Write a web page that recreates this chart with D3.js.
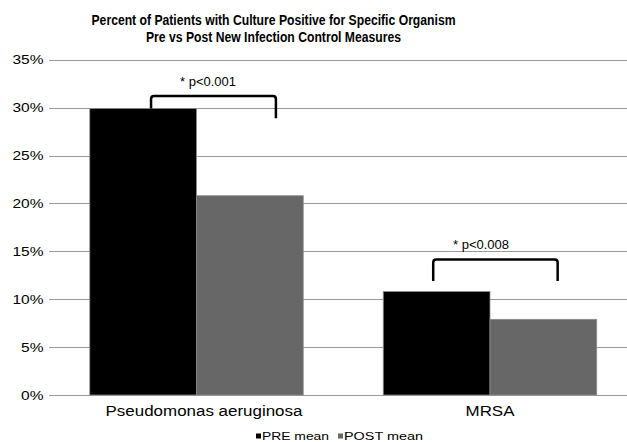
<!DOCTYPE html>
<html>
<head>
<meta charset="utf-8">
<script src="https://cdn.jsdelivr.net/npm/d3@7/dist/d3.min.js"></script>
<style>
body { margin: 0; background: #fff; }
text { font-family: "Liberation Sans", Arial, Helvetica, sans-serif; fill: #000; }
</style>
</head>
<body>
<script>
// data
var organisms = ["Pseudomonas aeruginosa", "MRSA"];
var seriesNames = ["PRE mean", "POST mean"];
var preMean = [0.299, 0.108];
var postMean = [0.208, 0.079];
var yTicks = [0, 0.05, 0.10, 0.15, 0.20, 0.25, 0.30, 0.35];
var pLabels = ["* p<0.001", "* p<0.008"];
var bracketTop = [0.312, 0.1415];
var bracketLeftEnd = [0.299, 0.119];
var bracketRightEnd = [0.289, 0.119];
var titleLines = ["Percent of Patients with Culture Positive for Specific Organism",
                  "Pre vs Post New Infection Control Measures"];

var w = 627, h = 442;
var colors = ["#000000", "#676767"];

var svg = d3.select("body").append("svg")
    .attr("width", w).attr("height", h);

// stretch text horizontally to match the squashed look of the original
function stretch(sel, k) {
    sel.each(function() {
        var len = this.getComputedTextLength();
        d3.select(this).attr("textLength", len * k).attr("lengthAdjust", "spacingAndGlyphs");
    });
}

var yScale = d3.scaleLinear().domain([0, 0.35]).range([395, 59.7]);
var x0 = d3.scaleBand().domain(organisms).range([49.75, 636.75])
    .paddingInner(0.2727).paddingOuter(0.1364);
var x1 = d3.scaleBand().domain(seriesNames).range([0, x0.bandwidth()]);

// title
svg.selectAll(".title").data(titleLines).enter().append("text")
    .attr("x", 273.5)
    .attr("y", function(d, i) { return 25 + i * 16.5; })
    .attr("text-anchor", "middle")
    .style("font-size", "14px").style("font-weight", "bold")
    .text(function(d) { return d; })
    .attr("textLength", function(d, i) { return i == 0 ? 364 : 255; })
    .attr("lengthAdjust", "spacingAndGlyphs");

// gridlines
svg.selectAll(".grid").data(yTicks).enter().append("line")
    .attr("x1", 49).attr("x2", w)
    .attr("y1", function(d) { return Math.round(yScale(d)) + 0.5; })
    .attr("y2", function(d) { return Math.round(yScale(d)) + 0.5; })
    .attr("stroke", "#9a9a9a").attr("stroke-width", 1);

// y axis labels
var yAxis = d3.axisLeft(yScale).tickValues(yTicks).tickFormat(d3.format(".0%")).tickSize(0).tickPadding(0);
var yg = svg.append("g").attr("transform", "translate(43.5,0)").call(yAxis);
yg.select(".domain").remove();
yg.selectAll("text").style("font-size", "12.5px").style("font-family", "Liberation Sans, Arial, sans-serif").attr("fill", "#000");
stretch(yg.selectAll("text"), 1.24);

// bars
var groups = svg.selectAll(".grp").data(organisms).enter().append("g")
    .attr("transform", function(d) { return "translate(" + x0(d) + ",0)"; });

groups.selectAll("rect").data(function(d, i) {
        return [{s: seriesNames[0], v: preMean[i]}, {s: seriesNames[1], v: postMean[i]}];
    }).enter().append("rect")
    .attr("x", function(d) { return x1(d.s); })
    .attr("y", function(d) { return yScale(d.v); })
    .attr("width", x1.bandwidth())
    .attr("height", function(d) { return yScale(0) - yScale(d.v); })
    .attr("fill", function(d, i) { return colors[i]; })
    .attr("stroke", "#8c8c8c").attr("stroke-width", 0.8);

// category labels
var xLab = svg.selectAll(".xlab").data(organisms).enter().append("text")
    .attr("x", function(d, i) { return x0(d) + x0.bandwidth() / 2 + (i == 0 ? 7.5 : 0); })
    .attr("y", 416)
    .attr("text-anchor", "middle")
    .style("font-size", "14px")
    .text(function(d) { return d; });
stretch(xLab, 1.21);

// significance brackets (positions as fraction of the group band)
var bLeft = [0.287, 0.234], bRight = [0.872, 0.817], tCenter = [0.554, 0.458];
organisms.forEach(function(o, i) {
    var xl = x0(o) + bLeft[i] * x0.bandwidth();
    var xr = x0(o) + bRight[i] * x0.bandwidth();
    var yt = yScale(bracketTop[i]);
    var r = 3;
    var p = d3.path();
    p.moveTo(xl, yScale(bracketLeftEnd[i]));
    p.lineTo(xl, yt + r);
    p.quadraticCurveTo(xl, yt, xl + r, yt);
    p.lineTo(xr - r, yt);
    p.quadraticCurveTo(xr, yt, xr, yt + r);
    p.lineTo(xr, yScale(bracketRightEnd[i]));
    svg.append("path").attr("d", p.toString())
        .attr("fill", "none").attr("stroke", "#000").attr("stroke-width", 2.5);
    svg.append("text")
        .attr("x", x0(o) + tCenter[i] * x0.bandwidth())
        .attr("y", yt - 10)
        .attr("text-anchor", "middle")
        .style("font-size", "13px")
        .text(pLabels[i]);
});

// legend
var legX = [256, 338], legW = [67, 79];
seriesNames.forEach(function(s, i) {
    svg.append("rect").attr("x", legX[i]).attr("y", 433.5)
        .attr("width", 5).attr("height", 5).attr("fill", colors[i]);
    svg.append("text").attr("x", legX[i] + 6).attr("y", 440)
        .style("font-size", "11.5px")
        .attr("textLength", legW[i]).attr("lengthAdjust", "spacingAndGlyphs")
        .text(s);
});
</script>
</body>
</html>
